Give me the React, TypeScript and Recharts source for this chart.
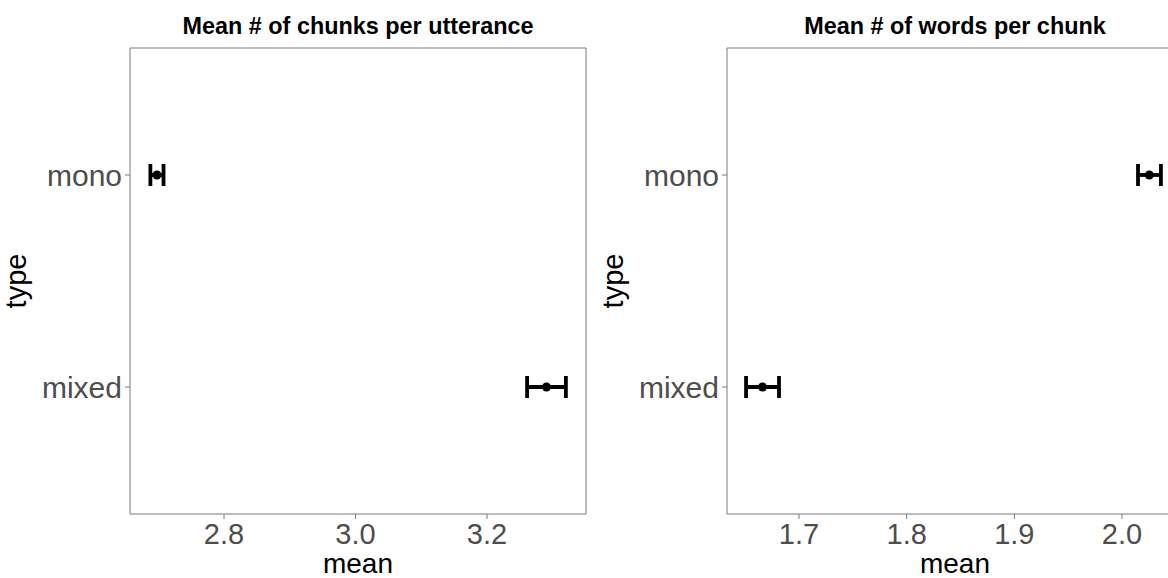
import React from 'react';
import { ScatterChart, Scatter, XAxis, YAxis, ErrorBar } from 'recharts';

const categories = ['mixed', 'mono'];

const chunksMean = [3.2905, 2.698];
const chunksLow = [3.261, 2.688];
const chunksHigh = [3.32, 2.708];
const chunksTicks = [2.8, 3.0, 3.2];
const chunksDomain = [2.657, 3.3506];

const wordsMean = [1.6661, 2.0254];
const wordsLow = [1.6508, 2.0149];
const wordsHigh = [1.6814, 2.0362];
const wordsTicks = [1.7, 1.8, 1.9, 2.0];
const wordsDomain = [1.6331, 2.0567];

const titles = ['Mean # of chunks per utterance', 'Mean # of words per chunk'];

const FONT = '"Liberation Sans", Arial, Helvetica, sans-serif';
const BORDER = '#7a7a7a';

type PanelProps = {
  title: string;
  mean: number[];
  low: number[];
  high: number[];
  ticks: number[];
  domain: number[];
  left: number;
};

function Panel({ title, mean, low, high, ticks, domain, left }: PanelProps) {
  const data = categories.map((type, i) => ({
    type,
    mean: mean[i],
    err: [mean[i] - low[i], high[i] - mean[i]],
  }));
  return (
    <div style={{ position: 'absolute', left, top: 0 }}>
      <ScatterChart width={600} height={578} margin={{ top: 47, right: 13, bottom: 0, left: 0 }}>
        <XAxis
          dataKey="mean"
          type="number"
          domain={domain}
          ticks={ticks}
          allowDataOverflow
          tickFormatter={(v: number) => v.toFixed(1)}
          height={64}
          tickSize={5}
          tickMargin={4}
          tick={{ fill: '#4D4D4D', fontSize: 29, fontFamily: FONT }}
          tickLine={{ stroke: BORDER }}
          axisLine={{ stroke: BORDER }}
          label={(p: any) => {
            const vb = p.viewBox;
            return (
              <text x={vb.x + vb.width / 2} y={vb.y + vb.height - 5} textAnchor="middle" fontSize={28} fontFamily={FONT} fill="#000">
                mean
              </text>
            );
          }}
        />
        <XAxis
          xAxisId="top"
          orientation="top"
          type="number"
          domain={domain}
          allowDataOverflow
          height={1}
          tick={false}
          tickLine={false}
          axisLine={{ stroke: BORDER }}
          label={(p: any) => {
            const vb = p.viewBox;
            return (
              <text x={vb.x + vb.width / 2} y={vb.y + vb.height - 14} textAnchor="middle" fontSize={23.4} fontWeight="bold" fontFamily={FONT} fill="#000">
                {title}
              </text>
            );
          }}
        />
        <YAxis
          dataKey="type"
          type="category"
          width={130}
          padding={{ top: 21, bottom: 21 }}
          tickSize={5}
          tickMargin={3}
          tick={{ fill: '#4D4D4D', fontSize: 30, fontFamily: FONT }}
          tickLine={{ stroke: BORDER }}
          axisLine={{ stroke: BORDER }}
          label={(p: any) => {
            const vb = p.viewBox;
            const cx = vb.x + 26;
            const cy = vb.y + vb.height / 2;
            return (
              <text x={cx} y={cy} transform={`rotate(-90 ${cx} ${cy})`} textAnchor="middle" fontSize={29} fontFamily={FONT} fill="#000">
                type
              </text>
            );
          }}
        />
        <YAxis
          yAxisId="right"
          orientation="right"
          type="number"
          domain={[0, 1]}
          width={1}
          tick={false}
          tickLine={false}
          axisLine={{ stroke: BORDER }}
        />
        <Scatter
          data={data}
          isAnimationActive={false}
          shape={(p: any) => <circle cx={p.cx} cy={p.cy} r={4.5} fill="#000" />}
        >
          <ErrorBar dataKey="err" direction="x" width={11} strokeWidth={3.8} stroke="#000" isAnimationActive={false} />
        </Scatter>
      </ScatterChart>
    </div>
  );
}

export default function App() {
  return (
    <div style={{ position: 'absolute', left: 0, top: 0, width: 1168, height: 578, overflow: 'hidden', background: '#fff' }}>
      <Panel title={titles[0]} mean={chunksMean} low={chunksLow} high={chunksHigh} ticks={chunksTicks} domain={chunksDomain} left={0} />
      <Panel title={titles[1]} mean={wordsMean} low={wordsLow} high={wordsHigh} ticks={wordsTicks} domain={wordsDomain} left={597} />
    </div>
  );
}
